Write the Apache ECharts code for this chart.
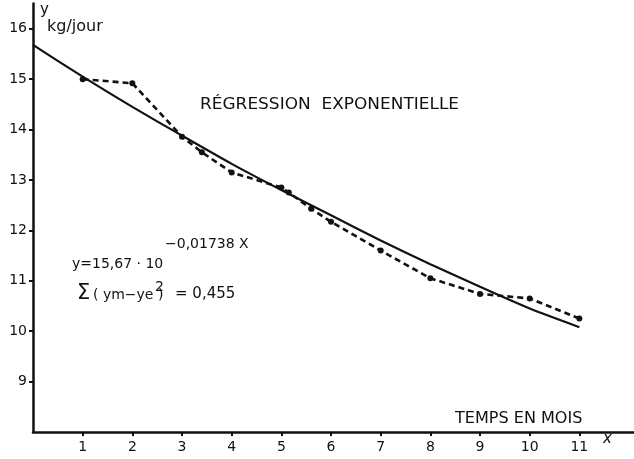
<!DOCTYPE html>
<html><head><meta charset="utf-8">
<script src="https://cdn.jsdelivr.net/npm/echarts@6/dist/echarts.min.js"></script>
<style>html,body{margin:0;padding:0;background:#fff}#c{width:634px;height:459px}</style>
</head><body><div id="c"></div>
<script>
// Measured points (dashed line)
var months = [1, 2, 3, 3.4, 4, 5, 5.15, 5.6, 6, 7, 8, 9, 10, 11];
var weights = [15.0, 14.92, 13.86, 13.55, 13.15, 12.85, 12.75, 12.43, 12.17, 11.6, 11.05, 10.74, 10.65, 10.25];
// Regression curve (solid line)
var fitMonths = [0, 1, 2, 3, 4, 5, 6, 7, 8, 9, 10, 11];
var fitWeights = [15.68, 15.05, 14.45, 13.88, 13.32, 12.8, 12.3, 11.8, 11.33, 10.88, 10.45, 10.08];
var xTickLabels = [1, 2, 3, 4, 5, 6, 7, 8, 9, 10, 11];
var yTickLabels = [9, 10, 11, 12, 13, 14, 15, 16];

var FONT = 'DejaVu Sans';
var chart = echarts.init(document.getElementById('c'));
chart.setOption({
  backgroundColor: '#ffffff',
  animation: false,
  grid: {left: 33, right: 0, top: 3.6, bottom: 27, containLabel: false},
  xAxis: {
    type: 'value', min: 0, max: 12.1, interval: 1,
    axisLine: {lineStyle: {color: '#111', width: 2.5}},
    axisTick: {show: true, length: 4, customValues: xTickLabels, lineStyle: {color: '#111', width: 2}},
    splitLine: {show: false},
    axisLabel: {
      color: '#111', fontFamily: FONT, fontSize: 14, margin: 8, customValues: xTickLabels
    }
  },
  yAxis: {
    type: 'value', min: 8, max: 16.5, interval: 1,
    axisLine: {show: true, lineStyle: {color: '#111', width: 2.5}},
    axisTick: {show: true, length: 4, customValues: yTickLabels, lineStyle: {color: '#111', width: 2}},
    splitLine: {show: false},
    axisLabel: {
      color: '#111', fontFamily: FONT, fontSize: 14, margin: 6, customValues: yTickLabels
    }
  },
  series: [
    {
      type: 'line', data: fitMonths.map(function (m, i) { return [m, fitWeights[i]]; }),
      smooth: 0.2, symbol: 'none', lineStyle: {color: '#111', width: 2.2}
    },
    {
      type: 'line', data: months.map(function (m, i) { return [m, weights[i]]; }),
      symbol: 'circle', symbolSize: 6, itemStyle: {color: '#111'},
      lineStyle: {color: '#111', width: 2.6, type: [6, 4]}
    }
  ],
  graphic: [
    {type: 'text', left: 40, top: 3, style: {text: 'y', font: '15px ' + FONT, fill: '#111'}},
    {type: 'text', left: 47, top: 19, style: {text: 'kg/jour', font: '16px ' + FONT, fill: '#111'}},
    {type: 'text', x: 200, y: 98, scaleX: 1.13, style: {text: 'RÉGRESSION  EXPONENTIELLE', font: '15px ' + FONT, fill: '#111'}},
    {type: 'text', left: 72, top: 257, style: {text: 'y=15,67 · 10', font: '14px ' + FONT, fill: '#111'}},
    {type: 'text', left: 165, top: 237, style: {text: '−0,01738 X', font: '14px ' + FONT, fill: '#111'}},
    {type: 'text', left: 77, top: 283, style: {text: 'Σ', font: '21px ' + FONT, fill: '#111'}},
    {type: 'text', left: 93, top: 288, style: {text: '( ym−ye )', font: '14px ' + FONT, fill: '#111'}},
    {type: 'text', left: 155, top: 280, style: {text: '2', font: '14px ' + FONT, fill: '#111'}},
    {type: 'text', left: 175, top: 287, style: {text: '= 0,455', font: '15px ' + FONT, fill: '#111'}},
    {type: 'text', x: 455, y: 412, scaleX: 1.07, style: {text: 'TEMPS EN MOIS', font: '15px ' + FONT, fill: '#111'}},
    {type: 'text', left: 603, top: 432, style: {text: 'x', font: 'italic 15px ' + FONT, fill: '#111'}}
  ]
});
</script></body></html>
